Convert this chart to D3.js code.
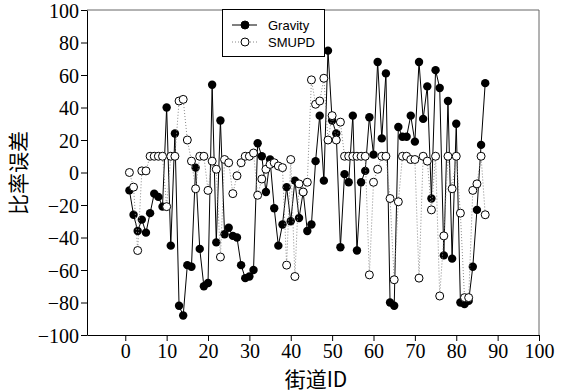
<!DOCTYPE html>
<html>
<head>
<meta charset="utf-8">
<script src="https://cdn.jsdelivr.net/npm/d3@7"></script>
<style>
  body { margin: 0; background: #fff; }
  svg { display: block; }
</style>
</head>
<body>
<div id="chart"></div>
<script>
// street IDs 1..87
const ids = d3.range(1, 88);

const gravity = [
  -11, -26, -36, -29, -37, -25, -13, -15, -21, 40,
  -45, 24, -82, -88, -57, -58, 3, -47, -70, -68,
  54, -43, 32, -38, -34, -39, -40, -57, -65, -64,
  -60, 18, 10, -12, 8, -22, -45, -32, -9, -30,
  -5, -28, -12, -36, -32, 7, 35, -5, 75, 32,
  24, -46, -1, -6, 35, -48, -6, 1, 34, 11,
  68, 21, 61, -80, -82, 28, 22, 22, 35, 19,
  68, 33, 53, -16, 63, 52, -51, 44, -53, 30,
  -80, -81, -79, -58, -23, 17, 55
];

const smupd = [
  0, -9, -48, 1, 1, 10, 10, 10, 10, -21,
  10, 10, 44, 45, 20, 7, -10, 10, 10, -11,
  7, 2, -52, 8, 6, -13, -2, 6, 10, 10,
  12, -14, -4, 2, 5, 6, 4, 3, -57, 8,
  -64, -7, -12, -6, 57, 42, 44, 58, 20, 35,
  20, 31, 10, 10, 10, 10, 10, 10, -63, -6,
  2, 10, 10, -16, -66, -18, 10, 10, 8, 8,
  -65, 10, 7, -23, 10, -76, -39, 10, -10, 10,
  -25, -77, -77, -11, -7, 10, -26
];

const xTicks = d3.range(0, 101, 10);
const yTicks = d3.range(-100, 101, 20);

const width = 575, height = 392;
const margin = { left: 87, right: 539, top: 10, bottom: 335 };

const svg = d3.select("#chart").append("svg")
    .attr("width", width)
    .attr("height", height);

const x = d3.scaleLinear().domain([-9.25, 100]).range([margin.left, margin.right]);
const y = d3.scaleLinear().domain([-100, 100]).range([margin.bottom, margin.top]);

// frame top/right
svg.append("path")
    .attr("d", `M${margin.left},${margin.top}H${margin.right}V${margin.bottom}`)
    .attr("fill", "none")
    .attr("stroke", "#666")
    .attr("stroke-width", 1);

// axes
const xAxis = svg.append("g")
    .attr("transform", `translate(0,${margin.bottom})`)
    .call(d3.axisBottom(x).tickValues(xTicks).tickSize(6).tickPadding(3).tickSizeOuter(0));

const yAxis = svg.append("g")
    .attr("transform", `translate(${margin.left},0)`)
    .call(d3.axisLeft(y).tickValues(yTicks).tickSize(6).tickPadding(2).tickSizeOuter(0));

[xAxis, yAxis].forEach(g => {
    g.selectAll("text")
        .attr("font-family", "'Liberation Serif', 'Times New Roman', serif")
        .attr("font-size", 20)
        .attr("fill", "#000");
    g.selectAll("line").attr("stroke", "#000");
    g.select(".domain").attr("stroke", "#000");
});
yAxis.selectAll("text").attr("dy", "0.35em");

// axis titles
svg.append("text")
    .attr("x", 316)
    .attr("y", 387)
    .attr("text-anchor", "middle")
    .attr("font-family", "'Noto Sans CJK SC', serif")
    .attr("font-size", 21)
    .text("街道ID");

svg.append("text")
    .attr("transform", "translate(26,173) rotate(-90)")
    .attr("text-anchor", "middle")
    .attr("font-family", "'Noto Sans CJK SC', serif")
    .attr("font-size", 21)
    .text("比率误差");

const line = d3.line()
    .x((d, i) => x(ids[i]))
    .y(d => y(d));

// Gravity series
svg.append("path")
    .datum(gravity)
    .attr("fill", "none")
    .attr("stroke", "#000")
    .attr("stroke-width", 1)
    .attr("d", line);

svg.append("g")
    .selectAll("circle")
    .data(gravity)
    .enter()
    .append("circle")
    .attr("cx", (d, i) => x(ids[i]))
    .attr("cy", d => y(d))
    .attr("r", 4.2)
    .attr("fill", "#000");

// SMUPD series
svg.append("path")
    .datum(smupd)
    .attr("fill", "none")
    .attr("stroke", "#888")
    .attr("stroke-width", 1)
    .attr("stroke-dasharray", "1,2")
    .attr("d", line);

svg.append("g")
    .selectAll("circle")
    .data(smupd)
    .enter()
    .append("circle")
    .attr("cx", (d, i) => x(ids[i]))
    .attr("cy", d => y(d))
    .attr("r", 4)
    .attr("fill", "#fff")
    .attr("stroke", "#000")
    .attr("stroke-width", 1);

// legend
const legend = svg.append("g");
legend.append("rect")
    .attr("x", 222.5).attr("y", 9.5)
    .attr("width", 102).attr("height", 47)
    .attr("fill", "#fff")
    .attr("stroke", "#000");

const items = [
    { name: "Gravity", y: 25, fill: "#000", stroke: "#000", dash: null },
    { name: "SMUPD", y: 42, fill: "#fff", stroke: "#888", dash: "1,2" }
];
items.forEach(it => {
    legend.append("line")
        .attr("x1", 232).attr("x2", 257)
        .attr("y1", it.y).attr("y2", it.y)
        .attr("stroke", it.stroke)
        .attr("stroke-dasharray", it.dash);
    legend.append("circle")
        .attr("cx", 245).attr("cy", it.y)
        .attr("r", 4)
        .attr("fill", it.fill)
        .attr("stroke", "#000");
    legend.append("text")
        .attr("x", 268).attr("y", it.y)
        .attr("dy", "0.35em")
        .attr("font-family", "'Liberation Sans', Arial, sans-serif")
        .attr("font-size", 13)
        .text(it.name);
});
</script>
</body>
</html>
